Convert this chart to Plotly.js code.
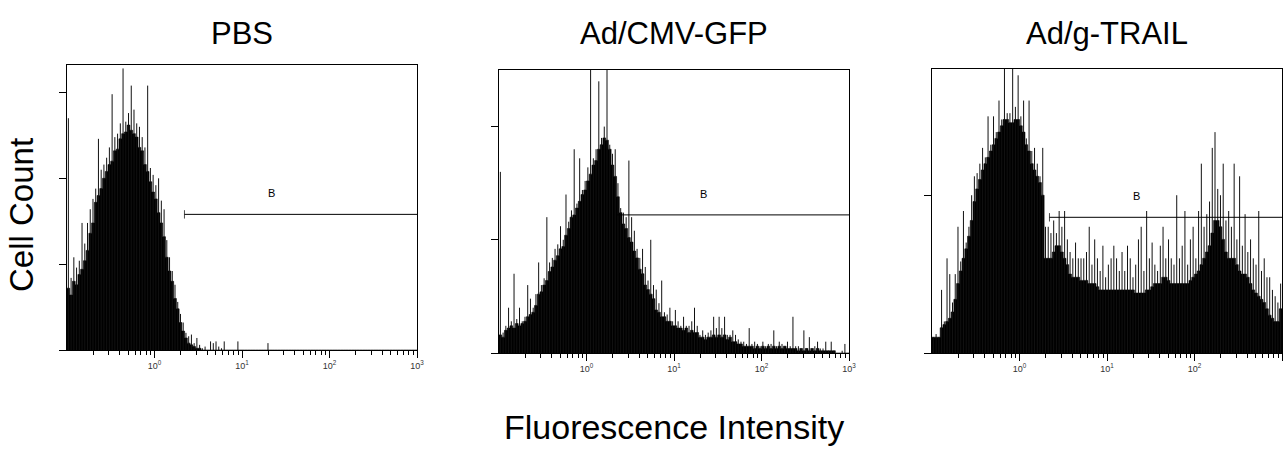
<!DOCTYPE html>
<html>
<head>
<meta charset="utf-8">
<script src="https://cdn.plot.ly/plotly-3.0.1.min.js"></script>
<style>
html,body{margin:0;padding:0;background:#fff;}
#chart{width:1288px;height:449px;}
</style>
</head>
<body>
<div id="chart"></div>
<script>
// ---------- data ----------
const panelTitles = ["PBS", "Ad/CMV-GFP", "Ad/g-TRAIL"];
const yAxisTitle = "Cell Count";
const xAxisTitle = "Fluorescence Intensity";
const tickValues = [1, 10, 100, 1000];
const tickLabels = ["10<sup>0</sup>", "10<sup>1</sup>", "10<sup>2</sup>", "10<sup>3</sup>"];
const countTicks = [0, 50, 100, 150];
const axisMinIntensity = 0.1;
const axisMaxIntensity = 1000;
const binsPerDecade = 32;
const yAxisMax = [166, 125, 90];

// 128 channels per panel (log scale, 32 per decade)
// "Fill" = dense body of the histogram, "Peak" = highest count in the channel (thin spikes)
const pbsFill = [
 36, 32, 40, 38, 44, 47, 52, 58, 68, 74,
 86, 90, 94, 100, 104, 108, 110, 116, 117, 123,
 126, 127, 131, 128, 126, 124, 118, 116, 108, 104,
 98, 92, 88, 80, 74, 66, 54, 46, 40, 30,
 24, 16, 11, 7, 4, 3, 2, 1, 1, 0,
 0, 0, 0, 0, 0, 0, 0, 0, 0, 0,
 0, 0, 0, 0, 0, 0, 0, 0, 0, 0,
 0, 0, 0, 0, 0, 0, 0, 0, 0, 0,
 0, 0, 0, 0, 0, 0, 0, 0, 0, 0,
 0, 0, 0, 0, 0, 0, 0, 0, 0, 0,
 0, 0, 0, 0, 0, 0, 0, 0, 0, 0,
 0, 0, 0, 0, 0, 0, 0, 0, 0, 0,
 0, 0, 0, 0, 0, 0, 0, 0
];
const pbsPeak = [
 135, 42, 54, 48, 52, 74, 62, 74, 82, 88,
 94, 123, 105, 108, 112, 118, 149, 124, 126, 132,
 164, 133, 138, 154, 140, 132, 130, 124, 118, 154,
 106, 102, 96, 100, 87, 82, 64, 54, 46, 38,
 28, 21, 16, 10, 8, 9, 4, 7, 3, 1,
 2, 0, 5, 4, 5, 2, 1, 5, 0, 0,
 0, 0, 5, 0, 0, 0, 0, 0, 0, 0,
 0, 0, 0, 4, 0, 0, 0, 0, 0, 0,
 0, 0, 0, 0, 0, 0, 0, 0, 0, 0,
 0, 0, 0, 0, 0, 0, 0, 0, 0, 0,
 0, 0, 0, 0, 0, 0, 0, 0, 0, 0,
 0, 0, 0, 0, 0, 0, 0, 0, 0, 0,
 0, 0, 0, 0, 0, 0, 0, 0
];
const gfpFill = [
 8, 7, 10, 11, 12, 11, 13, 12, 13, 14,
 16, 17, 18, 21, 26, 27, 30, 32, 36, 38,
 41, 43, 46, 47, 52, 55, 60, 61, 64, 67,
 70, 72, 76, 79, 83, 85, 90, 92, 95, 94,
 90, 83, 78, 69, 62, 57, 55, 51, 49, 45,
 42, 37, 35, 30, 28, 26, 24, 19, 18, 16,
 16, 14, 14, 12, 12, 11, 11, 10, 11, 9,
 10, 9, 9, 7, 7, 6, 7, 7, 8, 7,
 8, 7, 8, 6, 7, 5, 5, 4, 4, 3,
 3, 3, 3, 2, 3, 2, 3, 2, 3, 2,
 3, 2, 3, 2, 3, 2, 2, 2, 2, 1,
 2, 1, 2, 1, 2, 1, 2, 1, 1, 1,
 1, 1, 1, 0, 0, 0, 0, 0
];
const gfpPeak = [
 80, 9, 12, 20, 14, 35, 15, 20, 14, 16,
 30, 24, 20, 26, 40, 30, 33, 60, 40, 42,
 46, 48, 56, 50, 70, 58, 63, 90, 66, 86,
 72, 76, 82, 130, 86, 90, 120, 95, 100, 130,
 92, 88, 90, 75, 64, 62, 60, 85, 60, 54,
 46, 42, 46, 38, 32, 50, 30, 28, 22, 32,
 18, 17, 20, 14, 19, 14, 12, 16, 12, 12,
 14, 20, 12, 8, 10, 8, 9, 10, 16, 11,
 16, 11, 16, 8, 8, 10, 8, 6, 5, 5,
 4, 11, 4, 5, 4, 3, 5, 3, 4, 4,
 10, 3, 5, 4, 3, 5, 3, 16, 3, 3,
 2, 10, 2, 7, 2, 3, 5, 2, 2, 5,
 1, 5, 1, 0, 0, 1, 4, 0
];
const trailFill = [
 5, 5, 5, 8, 9, 10, 11, 13, 17, 22,
 26, 30, 33, 37, 42, 48, 52, 55, 58, 60,
 62, 64, 66, 68, 70, 72, 74, 74, 73, 73,
 74, 74, 72, 70, 66, 64, 60, 58, 56, 54,
 50, 30, 30, 30, 32, 34, 34, 32, 30, 28,
 25, 24, 24, 24, 23, 23, 23, 22, 22, 22,
 21, 20, 20, 20, 20, 20, 20, 20, 20, 20,
 20, 20, 20, 20, 19, 19, 19, 19, 20, 20,
 21, 22, 22, 22, 24, 24, 23, 22, 22, 22,
 22, 22, 22, 22, 23, 24, 25, 26, 28, 30,
 32, 34, 38, 42, 42, 40, 36, 32, 30, 30,
 30, 28, 26, 25, 25, 24, 22, 20, 19, 18,
 17, 16, 14, 12, 11, 10, 10, 14
];
const trailPeak = [
 5, 6, 5, 20, 10, 30, 25, 16, 25, 40,
 29, 45, 35, 40, 50, 56, 57, 60, 65, 62,
 75, 66, 75, 70, 80, 74, 92, 76, 76, 92,
 78, 88, 75, 80, 68, 80, 64, 65, 60, 56,
 65, 40, 40, 38, 42, 38, 45, 40, 45, 36,
 32, 30, 35, 30, 30, 30, 32, 40, 28, 36,
 30, 26, 34, 24, 28, 30, 34, 30, 26, 32,
 26, 34, 30, 24, 28, 36, 40, 26, 45, 30,
 35, 28, 26, 34, 40, 30, 36, 30, 28, 50,
 30, 34, 45, 28, 36, 40, 30, 45, 60, 40,
 44, 48, 65, 70, 52, 50, 60, 42, 45, 40,
 60, 36, 56, 34, 44, 32, 36, 30, 28, 45,
 26, 30, 24, 24, 20, 18, 16, 22
];
const gateStart = [2.2, 2.2, 2.2];
const gateLevel = [79, 61, 43];
const gateLabel = ["B", "B", "B"];
const gateLabelX = [22, 22, 22];

// ---------- layout helpers ----------
const W = 1288, H = 449;
const panels = [
  {fill: pbsFill, peak: pbsPeak, px: [67, 417], py: [65, 350]},
  {fill: gfpFill, peak: gfpPeak, px: [499, 849], py: [70, 353]},
  {fill: trailFill, peak: trailPeak, px: [932, 1282], py: [69, 353]}
];
const minorTickVals = [];
for (let d = axisMinIntensity; d < axisMaxIntensity; d *= 10) {
  for (let m = 2; m <= 9; m++) minorTickVals.push(+(m * d).toPrecision(3));
}
const channelEdge = i => axisMinIntensity * Math.pow(10, i / binsPerDecade);

const traces = [];
const layout = {
  width: W, height: H,
  margin: {l: 0, r: 0, t: 0, b: 0},
  paper_bgcolor: '#fff', plot_bgcolor: '#fff',
  showlegend: false,
  font: {family: '"Liberation Sans", Arial, sans-serif', color: '#000'},
  annotations: []
};

panels.forEach((p, k) => {
  const n = k + 1;
  const xa = 'x' + (n === 1 ? '' : n), ya = 'y' + (n === 1 ? '' : n);
  // dense body (step fill)
  const xEdges = [], yVals = [];
  p.fill.forEach((c, i) => { xEdges.push(channelEdge(i)); yVals.push(c); });
  xEdges.push(axisMaxIntensity);
  yVals.push(p.fill[p.fill.length - 1]);
  traces.push({
    type: 'scatter', mode: 'lines', x: xEdges, y: yVals, xaxis: xa, yaxis: ya,
    line: {shape: 'hv', color: '#000', width: 0.6},
    fill: 'tozeroy', fillcolor: '#000', hoverinfo: 'skip'
  });
  // thin spikes (channel peaks)
  const sx = [], sy = [];
  p.peak.forEach((c, i) => {
    if (c > 0) {
      const xc = channelEdge(i + 0.5);
      sx.push(xc, xc, null);
      sy.push(0, c, null);
    }
  });
  traces.push({
    type: 'scatter', mode: 'lines', x: sx, y: sy, xaxis: xa, yaxis: ya,
    line: {color: '#111', width: 1}, connectgaps: false, hoverinfo: 'skip'
  });
  // gate marker
  traces.push({
    type: 'scatter', mode: 'lines+markers', x: [gateStart[k], axisMaxIntensity],
    y: [gateLevel[k], gateLevel[k]], xaxis: xa, yaxis: ya,
    line: {color: '#000', width: 1},
    marker: {symbol: 'line-ns-open', size: [6, 0], line: {color: '#000', width: 1}},
    cliponaxis: false, hoverinfo: 'skip'
  });
  const xKey = 'xaxis' + (n === 1 ? '' : n), yKey = 'yaxis' + (n === 1 ? '' : n);
  layout[xKey] = {
    type: 'log', range: [Math.log10(axisMinIntensity), Math.log10(axisMaxIntensity)],
    domain: [p.px[0] / W, p.px[1] / W], anchor: ya,
    showline: true, mirror: true, linecolor: '#000', linewidth: 1,
    ticks: 'outside', ticklen: 7, tickwidth: 1, tickcolor: '#000',
    tickmode: 'array', tickvals: tickValues, ticktext: tickLabels,
    tickfont: {size: 9, color: '#333'},
    minor: {tickmode: 'array', tickvals: minorTickVals, ticks: 'outside', ticklen: 4, tickwidth: 1, tickcolor: '#000', showgrid: false},
    showgrid: false, zeroline: false, fixedrange: true
  };
  layout[yKey] = {
    range: [0, yAxisMax[k]],
    domain: [(H - p.py[1]) / H, (H - p.py[0]) / H], anchor: xa,
    showline: true, mirror: true, linecolor: '#000', linewidth: 1,
    ticks: 'outside', ticklen: 7, tickwidth: 1, tickcolor: '#000',
    tickmode: 'array', tickvals: countTicks, showticklabels: false,
    showgrid: false, zeroline: false, fixedrange: true
  };
  layout.annotations.push({
    xref: xa, yref: ya, x: Math.log10(gateLabelX[k]), y: gateLevel[k],
    yshift: 21, text: gateLabel[k], showarrow: false,
    font: {size: 11, color: '#000'}
  });
  layout.annotations.push({
    xref: 'paper', yref: 'paper', x: (p.px[0] + p.px[1]) / 2 / W, y: 1 - 33 / H,
    xanchor: 'center', yanchor: 'middle', text: panelTitles[k], showarrow: false,
    font: {size: 31, color: '#000'}
  });
});

layout.annotations.push({
  xref: 'paper', yref: 'paper', x: 22 / W, y: 1 - 215 / H,
  xanchor: 'center', yanchor: 'middle', textangle: -90, text: yAxisTitle,
  showarrow: false, font: {size: 33, color: '#000'}
});
layout.annotations.push({
  xref: 'paper', yref: 'paper', x: 674 / W, y: 1 - 427 / H,
  xanchor: 'center', yanchor: 'middle', text: xAxisTitle,
  showarrow: false, font: {size: 34, color: '#000'}
});

Plotly.newPlot('chart', traces, layout, {staticPlot: true, displayModeBar: false});
</script>
</body>
</html>
